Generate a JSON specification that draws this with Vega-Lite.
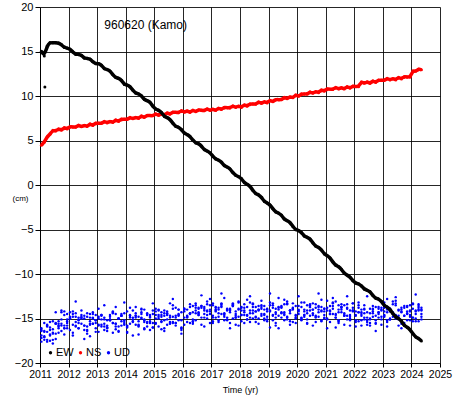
{
"$schema": "https://vega.github.io/schema/vega-lite/v6.json",
"width": 400, "height": 356,
"autosize": {"type": "none"},
"padding": {"left": 40, "top": 7, "right": 27, "bottom": 33},
"background": "white",
"config": {"font": "Liberation Sans", "view": {"stroke": null}},
"data": {"values": [
{"t":2011.05,"EW":15.03,"NS":4.48,"UD":-16.3,"U2":-17.6,"U3":-16.1,"U4":-16.9,"U5":-16.4,"U6":-17.2},
{"t":2011.15,"EW":14.5,"NS":4.8,"UD":-17.4,"U2":-16.4,"U3":-17.0,"U4":-15.5,"U5":-17.1,"U6":-16.5},
{"t":2011.17,"EW":11.0},
{"t":2011.25,"EW":15.63,"NS":5.42,"UD":-16.5,"U2":-15.8,"U3":-17.4,"U4":-17.6,"U5":-15.9,"U6":-15.7},
{"t":2011.35,"EW":16.02,"NS":5.7,"UD":-15.4,"U2":-16.9,"U3":-16.3,"U4":-16.0,"U5":-17.5,"U6":-16.8},
{"t":2011.45,"EW":15.99,"NS":6.15,"UD":-16.6,"U2":-17.8,"U3":-15.3,"U4":-16.7,"U5":-16.2,"U6":-17.4},
{"t":2011.55,"EW":15.97,"NS":6.07,"UD":-17.3,"U2":-15.6,"U3":-16.7,"U4":-14.3,"U5":-15.6,"U6":-15.5},
{"t":2011.65,"EW":15.95,"NS":6.31,"UD":-15.3,"U2":-15.9,"U3":-15.6,"U4":-16.6,"U5":-16.1,"U6":-15.8},
{"t":2011.75,"EW":15.78,"NS":6.15,"UD":-15.8,"U2":-14.3,"U3":-15.1,"U4":-15.6,"U5":-14.1,"U6":-16.4},
{"t":2011.85,"EW":15.45,"NS":6.46,"UD":-14.6,"U2":-16.1,"U3":-15.8,"U4":-16.8,"U5":-16.1,"U6":-14.2},
{"t":2011.95,"EW":15.38,"NS":6.3,"UD":-15.8,"U2":-15.1,"U3":-16.1,"U4":-14.5,"U5":-15.3,"U6":-15.5},
{"t":2012.05,"EW":15.27,"NS":6.56,"UD":-15.0,"U2":-16.3,"U3":-15.0,"U4":-14.9,"U5":-14.3,"U6":-14.8},
{"t":2012.15,"EW":14.94,"NS":6.52,"UD":-14.8,"U2":-14.5,"U3":-14.2,"U4":-15.7,"U5":-16.6,"U6":-16.9},
{"t":2012.25,"EW":14.67,"NS":6.49,"UD":-15.9,"U2":-15.4,"U3":-15.8,"U4":-13.1,"U5":-14.8,"U6":-14.4},
{"t":2012.35,"EW":14.7,"NS":6.73,"UD":-15.1,"U2":-16.1,"U3":-14.9,"U4":-16.1,"U5":-15.5,"U6":-15.2},
{"t":2012.45,"EW":14.58,"NS":6.54,"UD":-14.1,"U2":-14.9,"U3":-14.6,"U4":-14.8,"U5":-15.0,"U6":-15.6},
{"t":2012.55,"EW":14.25,"NS":6.72,"UD":-15.8,"U2":-14.7,"U3":-15.8,"U4":-17.3,"U5":-16.3,"U6":-15.0},
{"t":2012.65,"EW":14.23,"NS":6.56,"UD":-16.7,"U2":-15.9,"U3":-16.3,"U4":-14.8,"U5":-14.4,"U6":-16.4},
{"t":2012.75,"EW":14.17,"NS":6.87,"UD":-14.9,"U2":-17.0,"U3":-15.3,"U4":-15.7,"U5":-15.6,"U6":-14.5},
{"t":2012.85,"EW":13.84,"NS":6.69,"UD":-15.6,"U2":-15.0,"U3":-14.5,"U4":-14.3,"U5":-14.9,"U6":-15.6},
{"t":2012.95,"EW":13.62,"NS":6.96,"UD":-14.6,"U2":-15.5,"U3":-16.1,"U4":-16.5,"U5":-15.2,"U6":-15.2},
{"t":2013.05,"EW":13.65,"NS":6.93,"UD":-15.8,"U2":-13.9,"U3":-15.0,"U4":-14.8,"U5":-15.7,"U6":-16.5},
{"t":2013.15,"EW":13.48,"NS":6.91,"UD":-15.1,"U2":-15.9,"U3":-14.7,"U4":-15.7,"U5":-14.6,"U6":-14.6},
{"t":2013.25,"EW":13.05,"NS":7.16,"UD":-14.9,"U2":-15.1,"U3":-15.6,"U4":-13.5,"U5":-16.3,"U6":-15.9},
{"t":2013.35,"EW":12.98,"NS":6.98,"UD":-16.0,"U2":-16.4,"U3":-16.1,"U4":-16.0,"U5":-15.2,"U6":-15.8},
{"t":2013.45,"EW":12.82,"NS":7.17,"UD":-15.2,"U2":-14.6,"U3":-15.1,"U4":-15.2,"U5":-14.8,"U6":-15.1},
{"t":2013.55,"EW":12.39,"NS":7.01,"UD":-14.2,"U2":-15.5,"U3":-14.3,"U4":-16.6,"U5":-15.5,"U6":-14.4},
{"t":2013.65,"EW":12.07,"NS":7.32,"UD":-15.6,"U2":-16.2,"U3":-15.9,"U4":-14.5,"U5":-13.7,"U6":-15.6},
{"t":2013.75,"EW":12.0,"NS":7.14,"UD":-16.5,"U2":-15.0,"U3":-15.0,"U4":-15.0,"U5":-15.9,"U6":-16.4},
{"t":2013.85,"EW":11.78,"NS":7.41,"UD":-14.7,"U2":-14.5,"U3":-14.7,"U4":-15.8,"U5":-15.3,"U6":-14.7},
{"t":2013.95,"EW":11.3,"NS":7.38,"UD":-15.4,"U2":-15.7,"U3":-15.6,"U4":-13.2,"U5":-14.4,"U6":-15.2},
{"t":2014.05,"EW":11.23,"NS":7.36,"UD":-14.2,"U2":-16.6,"U3":-15.9,"U4":-16.0,"U5":-16.5,"U6":-15.8},
{"t":2014.15,"EW":11.07,"NS":7.61,"UD":-15.6,"U2":-14.6,"U3":-14.9,"U4":-14.7,"U5":-14.7,"U6":-13.8},
{"t":2014.25,"EW":10.64,"NS":7.43,"UD":-14.9,"U2":-15.1,"U3":-14.1,"U4":-16.9,"U5":-15.4,"U6":-15.3},
{"t":2014.35,"EW":10.32,"NS":7.62,"UD":-14.7,"U2":-13.7,"U3":-15.7,"U4":-14.4,"U5":-14.9,"U6":-14.7},
{"t":2014.45,"EW":10.25,"NS":7.46,"UD":-15.8,"U2":-15.7,"U3":-14.8,"U4":-15.3,"U5":-15.9,"U6":-16.8},
{"t":2014.55,"EW":10.03,"NS":7.77,"UD":-15.0,"U2":-14.9,"U3":-14.5,"U4":-13.9,"U5":-14.0,"U6":-14.3},
{"t":2014.65,"EW":9.6,"NS":7.58,"UD":-14.0,"U2":-16.2,"U3":-15.4,"U4":-16.1,"U5":-15.2,"U6":-15.1},
{"t":2014.75,"EW":9.48,"NS":7.84,"UD":-15.4,"U2":-14.4,"U3":-15.9,"U4":-14.6,"U5":-14.5,"U6":-15.5},
{"t":2014.85,"EW":9.32,"NS":7.8,"UD":-16.3,"U2":-15.3,"U3":-14.9,"U4":-15.5,"U5":-14.8,"U6":-14.6},
{"t":2014.95,"EW":8.84,"NS":7.77,"UD":-14.5,"U2":-16.0,"U3":-14.1,"U4":-13.3,"U5":-15.5,"U6":-16.0},
{"t":2015.05,"EW":8.52,"NS":8.01,"UD":-15.0,"U2":-14.6,"U3":-15.5,"U4":-15.6,"U5":-14.2,"U6":-13.9},
{"t":2015.15,"EW":8.4,"NS":7.82,"UD":-14.0,"U2":-14.1,"U3":-14.6,"U4":-14.8,"U5":-15.9,"U6":-15.0},
{"t":2015.25,"EW":8.18,"NS":8.0,"UD":-15.4,"U2":-15.3,"U3":-14.3,"U4":-16.2,"U5":-14.8,"U6":-14.6},
{"t":2015.35,"EW":7.7,"NS":7.83,"UD":-14.7,"U2":-16.4,"U3":-15.2,"U4":-14.1,"U5":-14.4,"U6":-16.1},
{"t":2015.45,"EW":7.58,"NS":8.13,"UD":-14.5,"U2":-14.4,"U3":-15.7,"U4":-14.6,"U5":-15.1,"U6":-14.2},
{"t":2015.55,"EW":7.37,"NS":7.94,"UD":-15.6,"U2":-14.9,"U3":-14.7,"U4":-15.4,"U5":-13.3,"U6":-15.5},
{"t":2015.65,"EW":6.94,"NS":8.2,"UD":-14.8,"U2":-13.5,"U3":-13.9,"U4":-12.8,"U5":-15.5,"U6":-15.4},
{"t":2015.75,"EW":6.57,"NS":8.16,"UD":-13.8,"U2":-15.5,"U3":-15.5,"U4":-15.8,"U5":-14.9,"U6":-14.7},
{"t":2015.85,"EW":6.5,"NS":8.13,"UD":-15.2,"U2":-14.7,"U3":-14.6,"U4":-14.5,"U5":-14.0,"U6":-14.0},
{"t":2015.95,"EW":6.23,"NS":8.37,"UD":-16.1,"U2":-16.0,"U3":-14.3,"U4":-16.7,"U5":-16.3,"U6":-15.2},
{"t":2016.05,"EW":5.8,"NS":8.18,"UD":-14.0,"U2":-13.9,"U3":-14.9,"U4":-13.9,"U5":-14.2,"U6":-15.7},
{"t":2016.15,"EW":5.68,"NS":8.34,"UD":-14.7,"U2":-14.8,"U3":-15.4,"U4":-14.8,"U5":-14.9,"U6":-14.0},
{"t":2016.25,"EW":5.47,"NS":8.15,"UD":-13.7,"U2":-15.5,"U3":-14.4,"U4":-13.4,"U5":-14.4,"U6":-14.5},
{"t":2016.35,"EW":5.04,"NS":8.43,"UD":-15.1,"U2":-14.3,"U3":-13.6,"U4":-15.6,"U5":-15.4,"U6":-15.3},
{"t":2016.45,"EW":4.72,"NS":8.22,"UD":-14.4,"U2":-13.8,"U3":-15.2,"U4":-14.1,"U5":-13.5,"U6":-13.3},
{"t":2016.55,"EW":4.65,"NS":8.46,"UD":-13.8,"U2":-14.6,"U3":-13.9,"U4":-14.6,"U5":-14.3,"U6":-14.4},
{"t":2016.65,"EW":4.38,"NS":8.4,"UD":-14.9,"U2":-15.7,"U3":-13.6,"U4":-12.4,"U5":-13.6,"U6":-13.8},
{"t":2016.75,"EW":3.95,"NS":8.35,"UD":-14.1,"U2":-13.7,"U3":-14.5,"U4":-14.9,"U5":-13.9,"U6":-15.9},
{"t":2016.85,"EW":3.83,"NS":8.57,"UD":-13.1,"U2":-14.2,"U3":-15.0,"U4":-14.1,"U5":-14.6,"U6":-13.4},
{"t":2016.95,"EW":3.62,"NS":8.36,"UD":-14.5,"U2":-12.8,"U3":-14.0,"U4":-15.5,"U5":-13.5,"U6":-14.2},
{"t":2017.05,"EW":3.24,"NS":8.53,"UD":-15.5,"U2":-14.9,"U3":-13.3,"U4":-13.5,"U5":-15.3,"U6":-14.7},
{"t":2017.15,"EW":2.92,"NS":8.36,"UD":-13.7,"U2":-14.1,"U3":-14.9,"U4":-14.0,"U5":-14.2,"U6":-13.8},
{"t":2017.25,"EW":2.8,"NS":8.66,"UD":-14.4,"U2":-15.4,"U3":-14.0,"U4":-14.8,"U5":-13.8,"U6":-15.2},
{"t":2017.35,"EW":2.58,"NS":8.47,"UD":-13.4,"U2":-13.6,"U3":-13.7,"U4":-12.2,"U5":-14.5,"U6":-13.3},
{"t":2017.45,"EW":2.15,"NS":8.73,"UD":-14.8,"U2":-14.5,"U3":-14.6,"U4":-15.2,"U5":-12.7,"U6":-14.4},
{"t":2017.55,"EW":2.03,"NS":8.69,"UD":-14.1,"U2":-15.2,"U3":-15.1,"U4":-13.9,"U5":-14.9,"U6":-14.0},
{"t":2017.65,"EW":1.82,"NS":8.66,"UD":-13.9,"U2":-14.0,"U3":-14.1,"U4":-16.1,"U5":-14.3,"U6":-15.5},
{"t":2017.75,"EW":1.39,"NS":8.9,"UD":-15.0,"U2":-13.5,"U3":-13.3,"U4":-13.6,"U5":-13.4,"U6":-13.6},
{"t":2017.85,"EW":1.07,"NS":8.71,"UD":-14.2,"U2":-14.7,"U3":-14.9,"U4":-14.5,"U5":-15.7,"U6":-14.9},
{"t":2017.95,"EW":0.95,"NS":8.89,"UD":-13.2,"U2":-15.8,"U3":-14.0,"U4":-13.1,"U5":-13.9,"U6":-14.8},
{"t":2018.05,"EW":0.73,"NS":8.72,"UD":-14.6,"U2":-13.8,"U3":-13.7,"U4":-15.3,"U5":-14.6,"U6":-14.1},
{"t":2018.15,"EW":0.25,"NS":9.03,"UD":-15.5,"U2":-14.3,"U3":-14.6,"U4":-13.8,"U5":-14.1,"U6":-13.4},
{"t":2018.25,"EW":0.08,"NS":8.85,"UD":-13.7,"U2":-12.9,"U3":-15.1,"U4":-14.7,"U5":-15.1,"U6":-14.6},
{"t":2018.35,"EW":-0.13,"NS":9.12,"UD":-14.4,"U2":-14.9,"U3":-14.1,"U4":-12.5,"U5":-13.2,"U6":-15.4},
{"t":2018.45,"EW":-0.61,"NS":9.09,"UD":-13.4,"U2":-14.1,"U3":-13.3,"U4":-15.0,"U5":-14.4,"U6":-13.7},
{"t":2018.55,"EW":-0.98,"NS":9.08,"UD":-14.8,"U2":-15.4,"U3":-14.9,"U4":-14.2,"U5":-13.7,"U6":-14.2},
{"t":2018.65,"EW":-1.1,"NS":9.34,"UD":-14.1,"U2":-13.6,"U3":-14.0,"U4":-15.6,"U5":-14.0,"U6":-15.0},
{"t":2018.75,"EW":-1.37,"NS":9.17,"UD":-13.9,"U2":-14.5,"U3":-13.7,"U4":-13.5,"U5":-14.7,"U6":-13.0},
{"t":2018.85,"EW":-1.85,"NS":9.37,"UD":-15.0,"U2":-15.2,"U3":-14.6,"U4":-14.0,"U5":-13.6,"U6":-14.5},
{"t":2018.95,"EW":-2.02,"NS":9.22,"UD":-14.2,"U2":-14.0,"U3":-15.1,"U4":-14.8,"U5":-15.3,"U6":-13.9},
{"t":2019.05,"EW":-2.23,"NS":9.53,"UD":-13.2,"U2":-13.5,"U3":-14.1,"U4":-12.2,"U5":-14.2,"U6":-16.0},
{"t":2019.15,"EW":-2.66,"NS":9.35,"UD":-14.6,"U2":-14.7,"U3":-13.3,"U4":-15.2,"U5":-13.8,"U6":-13.5},
{"t":2019.25,"EW":-3.03,"NS":9.62,"UD":-15.5,"U2":-15.8,"U3":-14.9,"U4":-13.9,"U5":-14.5,"U6":-14.3},
{"t":2019.35,"EW":-3.15,"NS":9.59,"UD":-13.7,"U2":-13.8,"U3":-14.0,"U4":-16.1,"U5":-12.7,"U6":-14.7},
{"t":2019.45,"EW":-3.37,"NS":9.57,"UD":-14.4,"U2":-14.3,"U3":-13.7,"U4":-13.6,"U5":-14.9,"U6":-13.8},
{"t":2019.55,"EW":-3.85,"NS":9.85,"UD":-13.4,"U2":-12.9,"U3":-14.6,"U4":-14.5,"U5":-14.3,"U6":-15.2},
{"t":2019.65,"EW":-4.02,"NS":9.7,"UD":-14.8,"U2":-14.9,"U3":-15.1,"U4":-13.1,"U5":-13.4,"U6":-13.3},
{"t":2019.75,"EW":-4.18,"NS":9.92,"UD":-14.1,"U2":-14.1,"U3":-14.1,"U4":-15.3,"U5":-15.7,"U6":-14.4},
{"t":2019.85,"EW":-4.66,"NS":9.79,"UD":-13.9,"U2":-15.4,"U3":-13.3,"U4":-13.8,"U5":-13.9,"U6":-14.0},
{"t":2019.95,"EW":-5.03,"NS":10.13,"UD":-15.0,"U2":-13.6,"U3":-14.9,"U4":-14.7,"U5":-14.6,"U6":-15.5},
{"t":2020.05,"EW":-5.1,"NS":9.96,"UD":-14.2,"U2":-14.5,"U3":-14.0,"U4":-12.5,"U5":-14.1,"U6":-13.6},
{"t":2020.15,"EW":-5.32,"NS":10.24,"UD":-13.2,"U2":-15.2,"U3":-13.7,"U4":-15.0,"U5":-15.1,"U6":-14.9},
{"t":2020.25,"EW":-5.75,"NS":10.22,"UD":-14.6,"U2":-14.0,"U3":-14.6,"U4":-14.2,"U5":-13.2,"U6":-14.8},
{"t":2020.35,"EW":-5.87,"NS":10.21,"UD":-15.5,"U2":-13.5,"U3":-15.1,"U4":-15.6,"U5":-14.4,"U6":-14.1},
{"t":2020.45,"EW":-6.03,"NS":10.47,"UD":-13.7,"U2":-14.7,"U3":-14.1,"U4":-13.5,"U5":-13.7,"U6":-13.4},
{"t":2020.55,"EW":-6.51,"NS":10.3,"UD":-14.4,"U2":-15.8,"U3":-13.3,"U4":-14.0,"U5":-14.0,"U6":-14.6},
{"t":2020.65,"EW":-6.88,"NS":10.51,"UD":-13.4,"U2":-13.8,"U3":-14.9,"U4":-14.8,"U5":-14.7,"U6":-15.4},
{"t":2020.75,"EW":-7.0,"NS":10.37,"UD":-14.8,"U2":-14.3,"U3":-14.0,"U4":-12.2,"U5":-13.6,"U6":-13.7},
{"t":2020.85,"EW":-7.27,"NS":10.7,"UD":-14.1,"U2":-12.9,"U3":-13.7,"U4":-15.2,"U5":-15.3,"U6":-14.2},
{"t":2020.95,"EW":-7.75,"NS":10.54,"UD":-13.9,"U2":-14.9,"U3":-14.6,"U4":-13.9,"U5":-14.2,"U6":-15.0},
{"t":2021.05,"EW":-7.92,"NS":10.81,"UD":-15.0,"U2":-14.1,"U3":-15.1,"U4":-16.1,"U5":-13.8,"U6":-13.0},
{"t":2021.15,"EW":-8.18,"NS":10.77,"UD":-14.2,"U2":-15.4,"U3":-14.1,"U4":-13.6,"U5":-14.5,"U6":-14.5},
{"t":2021.25,"EW":-8.66,"NS":10.74,"UD":-13.2,"U2":-13.6,"U3":-13.3,"U4":-14.5,"U5":-12.7,"U6":-13.9},
{"t":2021.35,"EW":-9.03,"NS":10.98,"UD":-14.6,"U2":-14.5,"U3":-14.9,"U4":-13.1,"U5":-14.9,"U6":-16.0},
{"t":2021.45,"EW":-9.15,"NS":10.79,"UD":-15.5,"U2":-15.2,"U3":-14.0,"U4":-15.3,"U5":-14.3,"U6":-13.5},
{"t":2021.55,"EW":-9.47,"NS":10.96,"UD":-13.7,"U2":-14.0,"U3":-13.7,"U4":-13.8,"U5":-13.4,"U6":-14.3},
{"t":2021.65,"EW":-9.95,"NS":10.78,"UD":-14.4,"U2":-13.5,"U3":-14.6,"U4":-14.7,"U5":-15.7,"U6":-14.7},
{"t":2021.75,"EW":-10.12,"NS":11.07,"UD":-13.4,"U2":-14.7,"U3":-15.1,"U4":-12.5,"U5":-13.9,"U6":-13.8},
{"t":2021.85,"EW":-10.33,"NS":10.87,"UD":-14.8,"U2":-15.8,"U3":-14.1,"U4":-15.0,"U5":-14.6,"U6":-15.2},
{"t":2021.95,"EW":-10.76,"NS":11.12,"UD":-14.1,"U2":-13.8,"U3":-13.3,"U4":-14.2,"U5":-14.1,"U6":-13.3},
{"t":2022.05,"EW":-11.03,"NS":11.07,"UD":-14.2,"U2":-14.6,"U3":-15.2,"U4":-15.9,"U5":-15.4,"U6":-14.7},
{"t":2022.15,"EW":-11.1,"NS":11.05,"UD":-15.3,"U2":-13.2,"U3":-14.3,"U4":-13.8,"U5":-13.5,"U6":-14.3},
{"t":2022.25,"EW":-11.32,"NS":11.6,"UD":-14.5,"U2":-15.2,"U3":-14.0,"U4":-14.3,"U5":-14.7,"U6":-15.8},
{"t":2022.35,"EW":-11.7,"NS":11.42,"UD":-13.5,"U2":-14.4,"U3":-14.9,"U4":-15.1,"U5":-14.0,"U6":-13.9},
{"t":2022.45,"EW":-11.82,"NS":11.59,"UD":-14.9,"U2":-15.7,"U3":-15.4,"U4":-12.5,"U5":-14.3,"U6":-15.2},
{"t":2022.55,"EW":-11.98,"NS":11.41,"UD":-15.8,"U2":-13.9,"U3":-14.4,"U4":-15.5,"U5":-15.0,"U6":-15.1},
{"t":2022.65,"EW":-12.41,"NS":11.71,"UD":-14.0,"U2":-14.8,"U3":-13.6,"U4":-14.2,"U5":-13.9,"U6":-14.4},
{"t":2022.75,"EW":-12.73,"NS":11.53,"UD":-14.7,"U2":-15.5,"U3":-15.2,"U4":-16.4,"U5":-15.6,"U6":-13.7},
{"t":2022.85,"EW":-12.8,"NS":11.8,"UD":-13.7,"U2":-14.3,"U3":-14.3,"U4":-13.9,"U5":-14.5,"U6":-14.9},
{"t":2022.95,"EW":-13.07,"NS":11.77,"UD":-15.1,"U2":-13.8,"U3":-14.0,"U4":-14.8,"U5":-14.1,"U6":-15.7},
{"t":2023.05,"EW":-13.55,"NS":11.75,"UD":-14.2,"U2":-14.8,"U3":-14.7,"U4":-13.2,"U5":-14.6,"U6":-13.8},
{"t":2023.15,"EW":-13.72,"NS":11.99,"UD":-14.0,"U2":-15.9,"U3":-15.2,"U4":-15.4,"U5":-12.8,"U6":-14.3},
{"t":2023.25,"EW":-13.98,"NS":11.8,"UD":-15.1,"U2":-13.9,"U3":-14.2,"U4":-13.9,"U5":-15.0,"U6":-15.1},
{"t":2023.35,"EW":-14.46,"NS":11.98,"UD":-14.3,"U2":-14.4,"U3":-13.4,"U4":-14.8,"U5":-14.4,"U6":-13.1},
{"t":2023.45,"EW":-14.83,"NS":11.81,"UD":-13.3,"U2":-13.0,"U3":-15.0,"U4":-12.6,"U5":-13.5,"U6":-14.6},
{"t":2023.55,"EW":-15.0,"NS":12.11,"UD":-14.7,"U2":-15.0,"U3":-14.1,"U4":-15.1,"U5":-15.8,"U6":-14.0},
{"t":2023.65,"EW":-15.27,"NS":11.92,"UD":-15.6,"U2":-14.2,"U3":-13.8,"U4":-14.3,"U5":-14.0,"U6":-16.1},
{"t":2023.75,"EW":-15.8,"NS":12.18,"UD":-13.8,"U2":-15.5,"U3":-14.7,"U4":-15.7,"U5":-14.7,"U6":-13.6},
{"t":2023.85,"EW":-15.97,"NS":12.14,"UD":-14.5,"U2":-13.7,"U3":-15.2,"U4":-13.6,"U5":-14.2,"U6":-14.4},
{"t":2023.95,"EW":-16.23,"NS":12.1,"UD":-13.5,"U2":-14.6,"U3":-14.2,"U4":-14.1,"U5":-15.2,"U6":-14.8},
{"t":2024.05,"EW":-16.71,"NS":12.85,"UD":-14.9,"U2":-15.3,"U3":-13.4,"U4":-14.9,"U5":-13.3,"U6":-13.9},
{"t":2024.15,"EW":-17.08,"NS":12.77,"UD":-14.2,"U2":-14.1,"U3":-15.0,"U4":-12.3,"U5":-14.5,"U6":-15.3},
{"t":2024.25,"EW":-17.25,"NS":13.04,"UD":-14.0,"U2":-13.6,"U3":-14.1,"U4":-15.3,"U5":-13.8,"U6":-13.4},
{"t":2024.35,"EW":-17.52,"NS":12.95,"UD":-15.1,"U2":-14.8,"U3":-13.8,"U4":-14.0,"U5":-14.1,"U6":-14.5}
]},
"layer": [
{
"transform": [{"fold": ["UD","U2","U3","U4","U5","U6","NS","EW"], "as": ["s","v"]}],
"mark": {"type": "circle", "opacity": 1},
"encoding": {
"x": {"field": "t", "type": "quantitative", "title": "Time (yr)",
 "scale": {"domain": [2011, 2025], "nice": false, "zero": false},
 "axis": {"tickCount": 14, "tickMinStep": 1, "format": "d",
  "title": "Time (yr)", "titleFontSize": 9, "titleFontWeight": "normal", "titlePadding": 6, "titleColor": "black",
  "labelFontSize": 10.5, "labelColor": "black", "labelPadding": 2, "labelFlush": false, "labelOverlap": false, "labelSeparation": 0, "labelBound": false,
  "tickColor": "black", "tickSize": 4, "domainColor": "black",
  "grid": true, "gridColor": "#000", "gridOpacity": 0.85}},
"y": {"field": "v", "type": "quantitative", "title": "(cm)",
 "scale": {"domain": [-20, 20], "nice": false, "zero": false},
 "axis": {"values": [-20,-15,-10,-5,0,5,10,15,20],
  "labelExpr": "replace(datum.label, '-', '\u2212')",
  "title": "(cm)", "titleAngle": 0, "titleX": -20, "titleY": 191, "titleAlign": "center", "titleBaseline": "middle",
  "titleFontSize": 8, "titleFontWeight": "normal", "titleColor": "black",
  "labelFontSize": 11, "labelColor": "black", "labelPadding": 2,
  "tickColor": "black", "tickSize": 5, "domainColor": "black",
  "grid": true, "gridColor": "#000", "gridOpacity": 0.85}},
"color": {"field": "s", "type": "nominal",
 "scale": {"domain": ["EW","NS","UD","U2","U3","U4","U5","U6"], "range": ["#000000","#ff0000","#0000ff","#0000ff","#0000ff","#0000ff","#0000ff","#0000ff"]},
 "legend": {"values": ["EW","NS","UD"], "title": null, "orient": "bottom-left", "direction": "horizontal",
  "offset": 5, "padding": 0, "labelFontSize": 11, "labelColor": "black", "labelOffset": 0,
  "columnPadding": 1, "symbolSize": 11, "symbolType": "circle", "symbolStrokeWidth": 0}},
"size": {"condition": {"test": "datum.s === 'EW' || datum.s === 'NS'", "value": 9}, "value": 6},
"order": {"field": "s", "type": "ordinal", "sort": "descending"}
}
},
{
"transform": [{"filter": "isValid(datum.NS)"}],
"mark": {"type": "line", "color": "#ff0000", "strokeWidth": 3.5, "interpolate": "basis"},
"encoding": {
"x": {"field": "t", "type": "quantitative", "title": "Time (yr)"},
"y": {"field": "NS", "type": "quantitative", "title": "(cm)"}
}
},
{
"transform": [{"filter": "isValid(datum.NS)"}],
"mark": {"type": "line", "color": "#000000", "strokeWidth": 3.5, "interpolate": "basis"},
"encoding": {
"x": {"field": "t", "type": "quantitative", "title": "Time (yr)"},
"y": {"field": "EW", "type": "quantitative", "title": "(cm)"}
}
},
{
"data": {"values": [{"t": 2013.25, "v": 18.0, "label": "960620 (Kamo)"}]},
"mark": {"type": "text", "align": "left", "baseline": "middle", "fontSize": 12, "color": "black"},
"encoding": {
"x": {"field": "t", "type": "quantitative", "title": "Time (yr)"},
"y": {"field": "v", "type": "quantitative", "title": "(cm)"},
"text": {"field": "label", "type": "nominal"}
}
}
]
}
